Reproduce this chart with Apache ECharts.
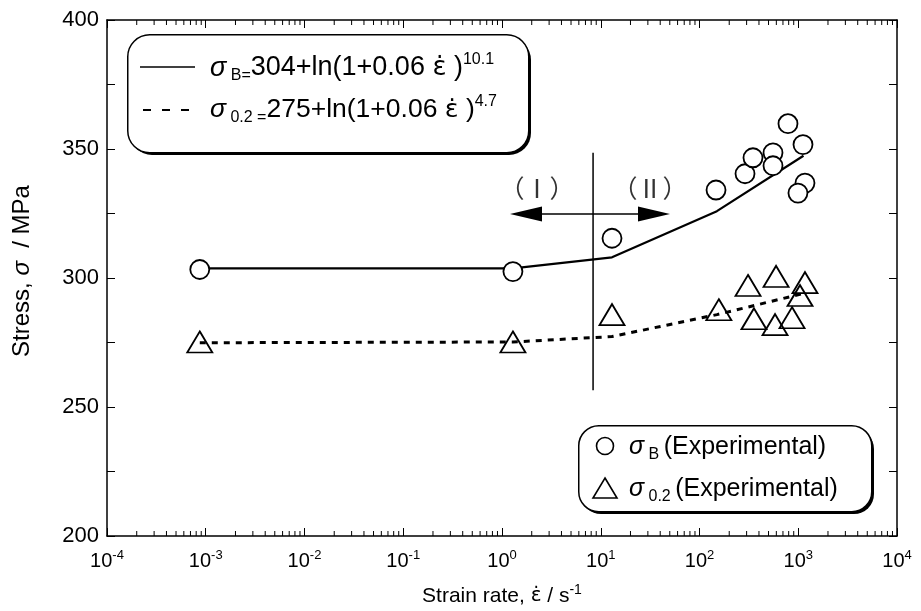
<!DOCTYPE html>
<html><head><meta charset="utf-8">
<script src="https://cdn.jsdelivr.net/npm/echarts@6/dist/echarts.min.js"></script>
<style>html,body{margin:0;padding:0;background:#fff}#c{width:921px;height:611px}</style>
</head><body><div id="c"></div>
<script>
const FONT = '"Liberation Sans", Arial, sans-serif';
const EFONT = '"DejaVu Sans", sans-serif';
// Experimental tensile strength σB (circles)
const sigmaBRate   = [8.7e-4, 1.29, 13.0, 147, 289, 348, 555, 555, 787, 1117, 1170, 993];
const sigmaBStress = [303.3, 302.5, 315.4, 334.1, 340.4, 346.6, 348.5, 343.5, 359.8, 351.7, 336.8, 332.9];
// Experimental 0.2% proof stress σ0.2 (triangles)
const sigma02Rate   = [8.7e-4, 1.29, 13.0, 157, 310, 596, 1170, 1042, 356, 582, 865];
const sigma02Stress = [275.2, 275.2, 285.8, 287.7, 297.1, 300.6, 298.2, 293.2, 284.2, 281.9, 284.6];
// Fitted curves
const curveRate    = [8.7e-4, 1.29, 13.0, 150, 1130];
const curveBStress = [303.7, 303.7, 308.0, 325.9, 347.4];
const curve02Stress= [274.9, 275.2, 277.3, 285.8, 294.0];
// Region boundary annotation
const boundaryRate = 8.36;
const boundaryStress = [256.5, 348.5];
const arrowStress = 324.8;
const arrowRates = [1.75, 34.6];
const regionLabels = ['（Ⅰ）', '（Ⅱ）'];
const regionLabelRates = [2.26, 31.6];
const regionLabelStress = 334.5;
// Axis ticks
const yTicks = [200, 250, 300, 350, 400];
const xMin = 1e-4, xMax = 1e4;

const minorTicks = [];
for (let e = -4; e < 4; e++) for (let k = 2; k <= 9; k++) minorTicks.push(k * Math.pow(10, e));

const zip = (a, b) => a.map((v, i) => [v, b[i]]);
const chart = echarts.init(document.getElementById('c'), null, {renderer: 'canvas'});

const axisLineStyle = {color: '#000', width: 1.5};
const legendRich = (big, small) => ({
  m: {fontSize: big, fontFamily: FONT, fill: '#000', lineHeight: 32},
  g: {fontSize: big, fontFamily: FONT, fontStyle: 'italic', fill: '#000', lineHeight: 32},
  e: {fontSize: big - 1, fontFamily: EFONT, fill: '#000', lineHeight: 32},
  sub: {fontSize: small, fontFamily: FONT, fill: '#000', verticalAlign: 'bottom', lineHeight: 32},
  sup: {fontSize: small, fontFamily: FONT, fill: '#000', verticalAlign: 'top', lineHeight: 32}
});
const option = {
  backgroundColor: '#fff',
  animation: false,
  grid: {left: 107, right: 24, top: 20, bottom: 75, containLabel: false, outerBoundsMode: 'none'},
  xAxis: [{
    type: 'log', logBase: 10, min: xMin, max: xMax, splitNumber: 8,
    position: 'bottom',
    axisLine: {lineStyle: axisLineStyle},
    axisTick: {inside: true, length: 8, lineStyle: {color: '#000', width: 1}},
    splitLine: {show: false},
    axisLabel: {
      margin: 13, color: '#000',
      formatter: v => '{b|10}{s|' + Math.round(Math.log10(v)) + '}',
      rich: {
        b: {fontSize: 20, fontFamily: FONT, color: '#000', lineHeight: 24},
        s: {fontSize: 13, fontFamily: FONT, color: '#000', verticalAlign: 'top', lineHeight: 24}
      }
    },
    name: '{t|Strain rate, }{e|ε̇}{t| / s}{s|-1}', nameLocation: 'middle', nameGap: 47,
    nameTextStyle: {rich: {
      t: {fontSize: 21, fontFamily: FONT, color: '#000', lineHeight: 26},
      e: {fontSize: 20, fontFamily: EFONT, color: '#000', lineHeight: 26},
      s: {fontSize: 14, fontFamily: FONT, color: '#000', verticalAlign: 'top', lineHeight: 26}
    }}
  }, {
    type: 'log', logBase: 10, min: xMin, max: xMax, splitNumber: 8,
    position: 'top',
    axisLine: {lineStyle: axisLineStyle},
    axisTick: {inside: true, length: 8, lineStyle: {color: '#000', width: 1}},
    splitLine: {show: false}, axisLabel: {show: false}
  }],
  yAxis: [{
    type: 'value', min: 200, max: 400, interval: 25, position: 'left',
    axisLine: {show: true, lineStyle: axisLineStyle},
    axisTick: {show: true, inside: true, length: 8, lineStyle: {color: '#000', width: 1}},
    splitLine: {show: false},
    axisLabel: {
      margin: 8, color: '#000', fontSize: 22, fontFamily: FONT,
      formatter: v => yTicks.includes(v) ? String(v) : ''
    },
    name: '{t|Stress, }{g|σ}{t|  / MPa}', nameLocation: 'middle', nameGap: 72, nameRotate: 90,
    nameTextStyle: {padding: [0, 0, 0, 14], rich: {
      t: {fontSize: 24, fontFamily: FONT, color: '#000', lineHeight: 26},
      g: {fontSize: 24, fontFamily: FONT, fontStyle: 'italic', color: '#000', lineHeight: 26}
    }}
  }, {
    type: 'value', min: 200, max: 400, interval: 25, position: 'right',
    axisLine: {show: true, lineStyle: axisLineStyle},
    axisTick: {show: true, inside: true, length: 8, lineStyle: {color: '#000', width: 1}},
    splitLine: {show: false}, axisLabel: {show: false}
  }],
  series: [
    {
      type: 'custom', name: 'minorTicks', silent: true, clip: false, z: 1,
      data: minorTicks.map(v => [v, 300]),
      renderItem: (params, api) => {
        const x = api.coord([api.value(0), api.value(1)])[0];
        const cs = params.coordSys;
        const st = {stroke: '#000', lineWidth: 1};
        return {type: 'group', children: [
          {type: 'line', shape: {x1: x, y1: cs.y + cs.height, x2: x, y2: cs.y + cs.height - 5}, style: st},
          {type: 'line', shape: {x1: x, y1: cs.y, x2: x, y2: cs.y + 5}, style: st}
        ]};
      }
    },
    {
      type: 'line', name: 'σB fit', data: zip(curveRate, curveBStress),
      symbol: 'none', lineStyle: {color: '#000', width: 2.2}, z: 2, silent: true
    },
    {
      type: 'line', name: 'σ0.2 fit', data: zip(curveRate, curve02Stress),
      symbol: 'none', lineStyle: {color: '#000', width: 3, type: [6, 6]}, z: 2, silent: true
    },
    {
      type: 'line', name: 'boundary', data: boundaryStress.map(s => [boundaryRate, s]),
      symbol: 'none', lineStyle: {color: '#000', width: 1.5}, z: 2, silent: true,
      markLine: {
        silent: true, symbol: ['triangle', 'triangle'], symbolSize: [15, 32],
        label: {show: false},
        lineStyle: {color: '#000', width: 1.5, type: 'solid'},
        itemStyle: {color: '#000'},
        data: [[{coord: [arrowRates[0], arrowStress]}, {coord: [arrowRates[1], arrowStress]}]]
      }
    },
    {
      type: 'scatter', name: 'labels', symbolSize: 0, silent: true, z: 3,
      data: regionLabels.map((t, i) => ({name: t, value: [regionLabelRates[i], regionLabelStress]})),
      label: {show: true, position: 'inside', formatter: '{b}', fontSize: 25,
        fontFamily: '"Noto Sans CJK JP", sans-serif', color: '#000'}
    },
    {
      type: 'scatter', name: 'σB exp', data: zip(sigmaBRate, sigmaBStress),
      symbol: 'circle', symbolSize: 19, z: 5,
      itemStyle: {color: '#fff', borderColor: '#000', borderWidth: 1.8, opacity: 1}
    },
    {
      type: 'scatter', name: 'σ0.2 exp', data: zip(sigma02Rate, sigma02Stress),
      symbol: 'triangle', symbolSize: [25, 21], z: 5,
      itemStyle: {color: 'rgba(255,255,255,0)', borderColor: '#000', borderWidth: 1.8, opacity: 1}
    }
  ],
  graphic: [
    // top legend box (shadow + box)
    {type: 'rect', left: 130, top: 38, z: 9,
      shape: {width: 401, height: 117, r: 22}, style: {fill: '#000'}},
    {type: 'rect', left: 127, top: 34, z: 10,
      shape: {width: 401, height: 118, r: 22},
      style: {fill: '#fff', stroke: '#000', lineWidth: 1.5}},
    {type: 'line', z: 11, shape: {x1: 140, y1: 67, x2: 195, y2: 67}, style: {stroke: '#000', lineWidth: 1.5}},
    {type: 'line', z: 11, shape: {x1: 143, y1: 110, x2: 190, y2: 110}, style: {stroke: '#000', lineWidth: 2, lineDash: [8, 11]}},
    {type: 'text', z: 11, x: 210, y: 68, style: {
      text: '{g|σ}{sub| B=}{m|304+ln(1+0.06 }{e|ε̇}{m| )}{sup|10.1}', verticalAlign: 'middle',
      rich: legendRich(27, 16)}},
    {type: 'text', z: 11, x: 210, y: 110, style: {
      text: '{g|σ}{sub| 0.2 =}{m|275+ln(1+0.06 }{e|ε̇}{m| )}{sup|4.7}', verticalAlign: 'middle',
      rich: legendRich(26.5, 16)}},
    // bottom legend box
    {type: 'rect', left: 581, top: 429, z: 9,
      shape: {width: 293, height: 85, r: 20}, style: {fill: '#000'}},
    {type: 'rect', left: 578, top: 425, z: 10,
      shape: {width: 293, height: 86, r: 20},
      style: {fill: '#fff', stroke: '#000', lineWidth: 1.5}},
    {type: 'circle', z: 11, shape: {cx: 605, cy: 446, r: 8.5}, style: {fill: '#fff', stroke: '#000', lineWidth: 1.6}},
    {type: 'polygon', z: 11, shape: {points: [[605, 478], [617, 498], [593, 498]]}, style: {fill: 'none', stroke: '#000', lineWidth: 1.6}},
    {type: 'text', z: 11, x: 629, y: 447, style: {
      text: '{g|σ}{sub| B }{m|(Experimental)}', verticalAlign: 'middle',
      rich: legendRich(25, 16)}},
    {type: 'text', z: 11, x: 629, y: 489, style: {
      text: '{g|σ}{sub| 0.2 }{m|(Experimental)}', verticalAlign: 'middle',
      rich: legendRich(25, 16)}}
  ]
};
chart.setOption(option);
</script>
</body></html>
